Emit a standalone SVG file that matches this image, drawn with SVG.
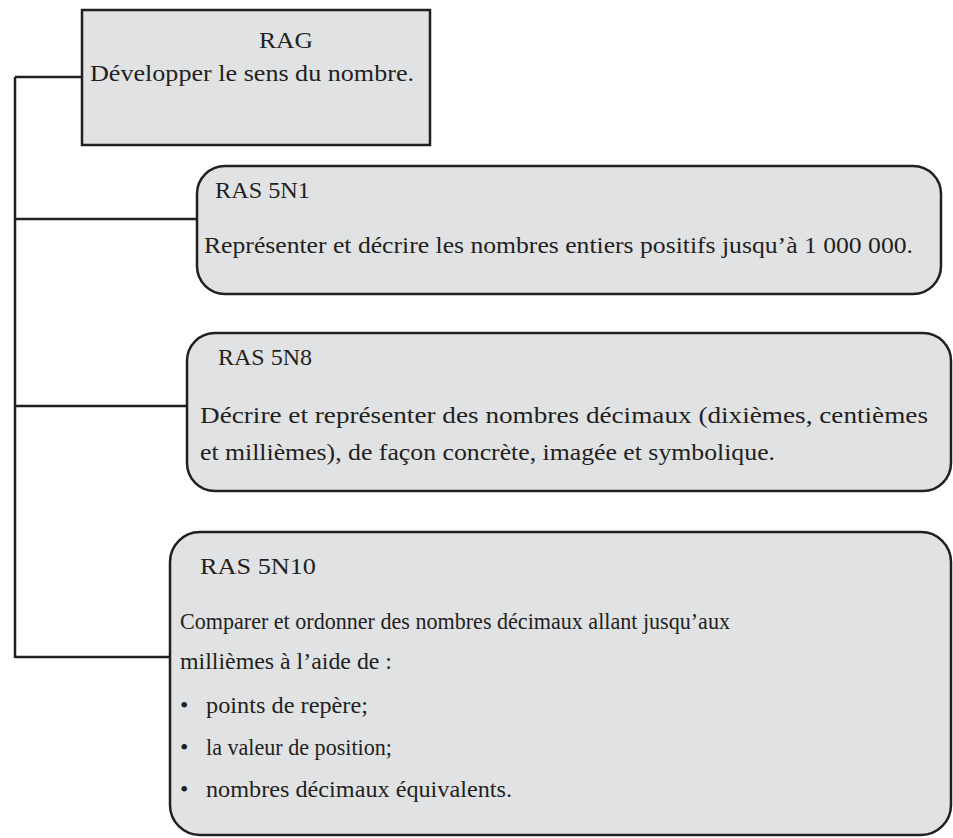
<svg xmlns="http://www.w3.org/2000/svg" width="953" height="838" viewBox="0 0 953 838">
<style>
.box{fill:#e1e2e4;stroke:#231f20;stroke-width:2.5}
.conn{fill:none;stroke:#231f20;stroke-width:2.5}
.t{font-size:24px;fill:#231f20}
</style>
<rect width="953" height="838" fill="#ffffff"/>
<g id="connectors">
<path class="conn" d="M15,77 V658 M15,77 H82 M15,219 H197 M15,406 H187 M15,657 H170"/>
</g>
<g font-family="'Liberation Serif', 'DejaVu Serif', serif">
<g id="rag">
<rect class="box" x="82" y="10" width="348" height="135"/>
<text class="t" x="259" y="48" textLength="54" lengthAdjust="spacingAndGlyphs">RAG</text>
<text class="t" x="90" y="81" textLength="324" lengthAdjust="spacingAndGlyphs">Développer le sens du nombre.</text>
</g>
<g id="ras5n1">
<rect class="box" x="197" y="166" width="744" height="128" rx="28" ry="28"/>
<text class="t" x="215" y="198" textLength="95" lengthAdjust="spacingAndGlyphs">RAS 5N1</text>
<text class="t" x="204" y="253" textLength="709" lengthAdjust="spacingAndGlyphs">Représenter et décrire les nombres entiers positifs jusqu’à 1 000 000.</text>
</g>
<g id="ras5n8">
<rect class="box" x="187" y="333" width="764" height="158" rx="28" ry="28"/>
<text class="t" x="218" y="365" textLength="94" lengthAdjust="spacingAndGlyphs">RAS 5N8</text>
<text class="t" x="200" y="423" textLength="728" lengthAdjust="spacingAndGlyphs">Décrire et représenter des nombres décimaux (dixièmes, centièmes</text>
<text class="t" x="200" y="460" textLength="575" lengthAdjust="spacingAndGlyphs">et millièmes), de façon concrète, imagée et symbolique.</text>
</g>
<g id="ras5n10">
<rect class="box" x="170" y="532" width="781" height="303" rx="30" ry="30"/>
<text class="t" x="200" y="574" textLength="116" lengthAdjust="spacingAndGlyphs">RAS 5N10</text>
<text class="t" x="180" y="629" textLength="550" lengthAdjust="spacingAndGlyphs">Comparer et ordonner des nombres décimaux allant jusqu’aux</text>
<text class="t" x="180" y="669" textLength="212" lengthAdjust="spacingAndGlyphs">millièmes à l’aide de :</text>
<text class="t" x="180" y="713">•</text>
<text class="t" x="206" y="713" textLength="162" lengthAdjust="spacingAndGlyphs">points de repère;</text>
<text class="t" x="180" y="755">•</text>
<text class="t" x="206" y="755" textLength="186" lengthAdjust="spacingAndGlyphs">la valeur de position;</text>
<text class="t" x="180" y="797">•</text>
<text class="t" x="206" y="797" textLength="306" lengthAdjust="spacingAndGlyphs">nombres décimaux équivalents.</text>
</g>
</g>
</svg>
